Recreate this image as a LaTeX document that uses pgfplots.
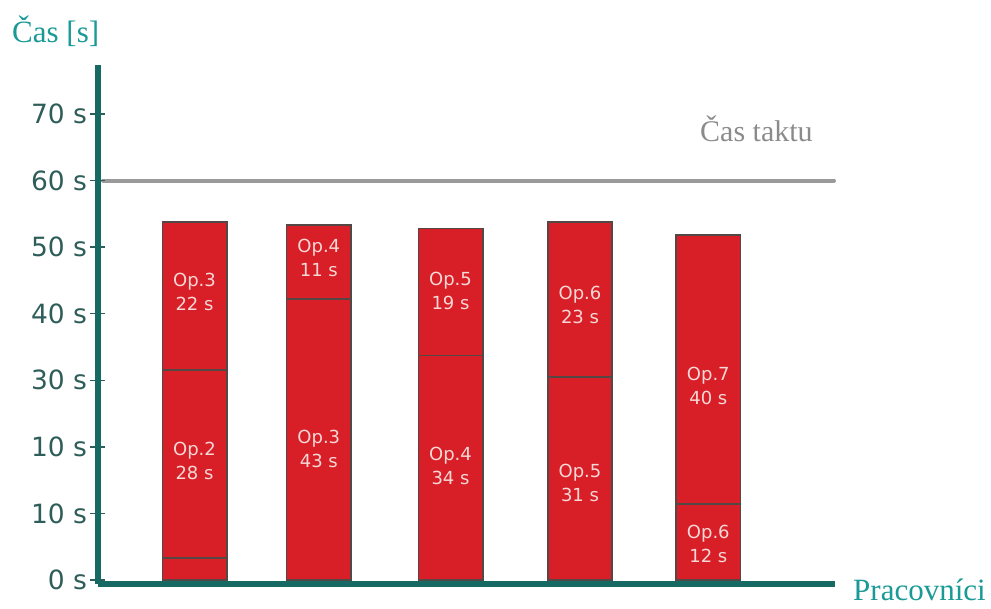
\documentclass[border=0pt]{standalone}
\usepackage{pgfplots}
\pgfplotsset{compat=1.18}
\usepackage{fontspec}
\setmainfont{Liberation Serif}
\newfontfamily\verd{DejaVu Sans}
\definecolor{barred}{HTML}{D81E27}
\definecolor{bordergray}{HTML}{544846}
\definecolor{axteal}{HTML}{166A63}
\definecolor{titleteal}{HTML}{1A9A96}
\definecolor{ticktext}{HTML}{2F5E5A}
\definecolor{taktgray}{HTML}{9A9A9A}
\definecolor{labpink}{HTML}{F6D8D6}
\tikzset{barlab/.style={align=center, text=labpink, inner sep=0pt, font=\verd\fontsize{18}{24}\selectfont}}
\begin{document}
\begin{tikzpicture}[x=1pt,y=1pt]
\useasboundingbox (0,0) rectangle (991,608);
\pgfplotsset{common/.style={
  at={(98pt,24pt)}, anchor=south west, scale only axis,
  width=737pt, height=519pt,
  xmin=98, xmax=835, ymin=-0.6, ymax=77.36, clip=false}}
\begin{axis}[common, axis lines=none]
\addplot[taktgray, line width=4pt, line cap=round, no marks] coordinates {(103,60) (834,60)};
\end{axis}
\begin{axis}[common,
  axis lines=left,
  axis line style={line width=6pt, axteal, -},
  xtick=\empty,
  ytick={0,10,...,70},
  yticklabels={0 s,10 s,10 s,30 s,40 s,50 s,60 s,70 s},
  tick align=center, major tick length=15pt,
  tick style={line width=1.5pt, color=ticktext},
  yticklabel style={font=\verd\fontsize{26.5}{26.5}\selectfont, text=ticktext},
  ybar stacked, bar width=64.4pt,
]
\addplot[fill=barred, draw=bordergray, line width=1.6pt] coordinates {(194.5,3.3) (318.8,42.2) (450.5,33.7) (580,30.5) (708.3,11.4)};
\addplot[fill=barred, draw=bordergray, line width=1.6pt] coordinates {(194.5,28.2) (318.8,11.1) (450.5,19.1) (580,23.3) (708.3,40.4)};
\addplot[fill=barred, draw=bordergray, line width=1.6pt] coordinates {(194.5,22.3) (318.8,0) (450.5,0) (580,0) (708.3,0)};
\end{axis}
\begin{axis}[common, axis lines=none]
\node[barlab] at (axis cs:194.5,43.3) {Op.3\\22 s};
\node[barlab] at (axis cs:194.5,17.9) {Op.2\\28 s};
\node[barlab] at (axis cs:318.8,48.4) {Op.4\\11 s};
\node[barlab] at (axis cs:318.8,19.7) {Op.3\\43 s};
\node[barlab] at (axis cs:450.5,43.4) {Op.5\\19 s};
\node[barlab] at (axis cs:450.5,17.1) {Op.4\\34 s};
\node[barlab] at (axis cs:580,41.3) {Op.6\\23 s};
\node[barlab] at (axis cs:580,14.6) {Op.5\\31 s};
\node[barlab] at (axis cs:708.3,29.1) {Op.7\\40 s};
\node[barlab] at (axis cs:708.3,5.4) {Op.6\\12 s};
\end{axis}
\node[anchor=base west, inner sep=0pt, text=titleteal, font=\fontsize{31}{31}\selectfont] at (12,565) {Čas [s]};
\node[anchor=base west, inner sep=0pt, text=titleteal, font=\fontsize{31}{31}\selectfont] at (853,7) {Pracovníci};
\node[anchor=base west, inner sep=0pt, text=taktgray!90!black, font=\fontsize{30}{30}\selectfont] at (700,466) {Čas taktu};
\end{tikzpicture}
\end{document}
